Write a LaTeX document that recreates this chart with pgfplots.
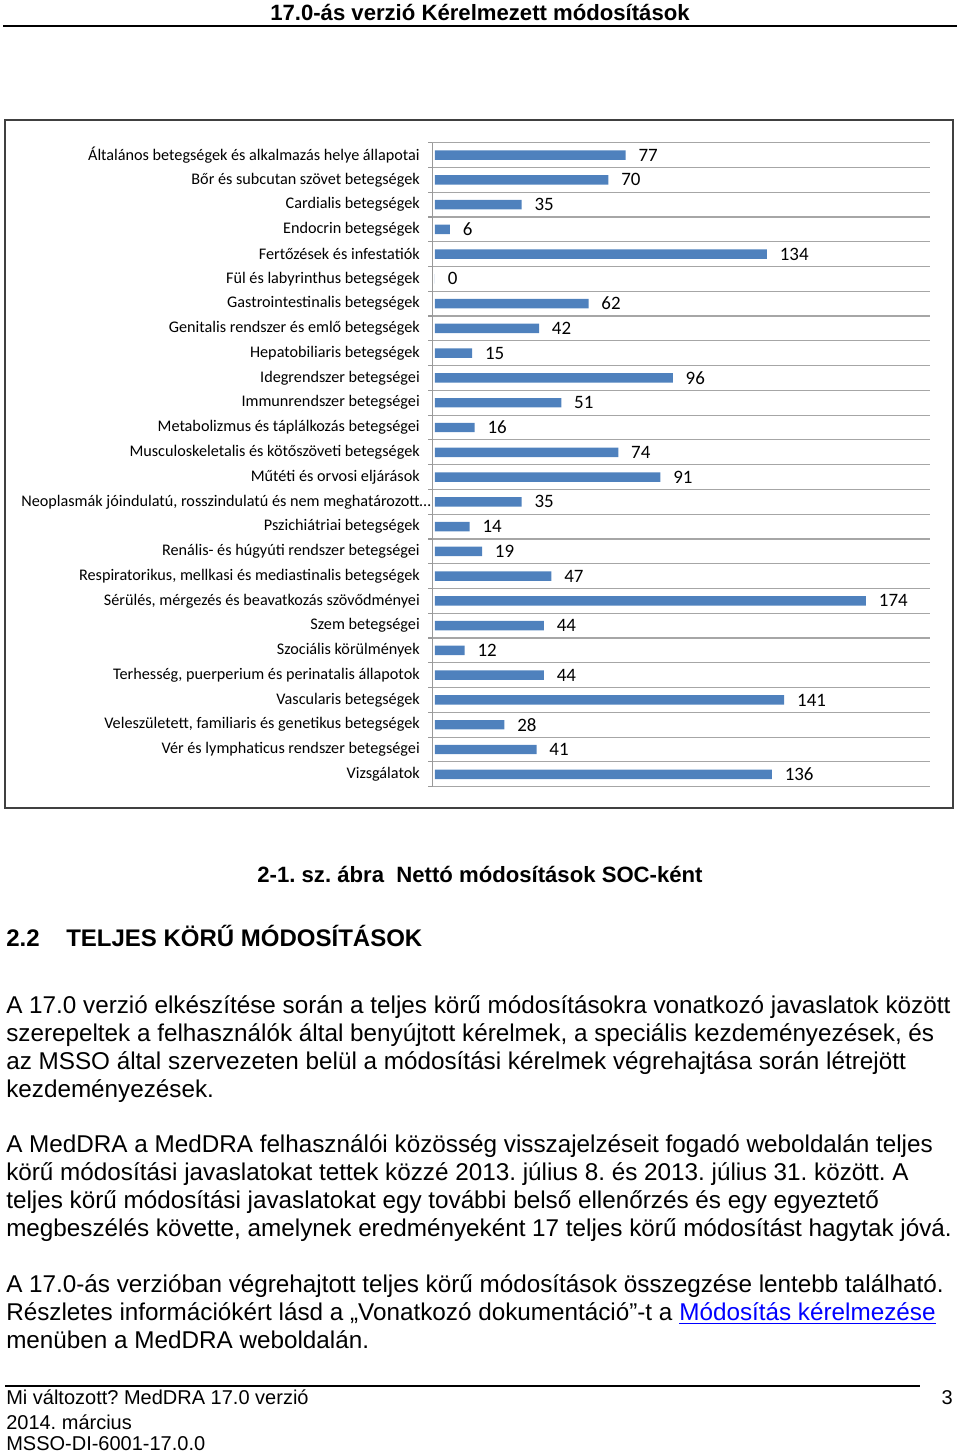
\documentclass[border=0pt]{standalone}
\usepackage{pgfplots}
\pgfplotsset{compat=1.18}
\usepackage{fontspec}
\setmainfont{Liberation Sans}
\newfontfamily\calibri{Carlito}
\definecolor{barblue}{HTML}{4F81BD}
\newcommand{\bodyfont}{\fontsize{18.2}{22}\selectfont}
\frenchspacing
\begin{document}
\begin{tikzpicture}
\begin{scope}[x=0.75pt,y=0.75pt]
\path[use as bounding box] (0,0) rectangle (960,1454);
% header
\node[anchor=base,inner sep=0pt] at (480,{1454-21}) {\fontsize{16.6}{20}\selectfont\bfseries 17.0-ás verzió Kérelmezett módosítások};
\draw[black,line width=1.2pt] (3,{1454-26}) -- (957,{1454-26});
% chart frame
\draw[black!75,line width=1.5pt] (5,{1454-120}) rectangle (953,{1454-808});
% caption
\node[anchor=base,inner sep=0pt] at (480,{1454-883}) {\fontsize{16.6}{20}\selectfont\bfseries 2-1. sz. ábra\ \ Nettó módosítások SOC-ként};
% heading
\node[anchor=base west,inner sep=0pt] at (6,{1454-947}) {\fontsize{18}{22}\selectfont\bfseries 2.2};
\node[anchor=base west,inner sep=0pt] at (66,{1454-947}) {\fontsize{18}{22}\selectfont\bfseries TELJES KÖRŰ MÓDOSÍTÁSOK};
% paragraph 1
\node[anchor=base west,inner sep=0pt] at (6,{1454-1014}) {\bodyfont A 17.0 verzió elkészítése során a teljes körű módosításokra vonatkozó javaslatok között};
\node[anchor=base west,inner sep=0pt] at (6,{1454-1042}) {\bodyfont szerepeltek a felhasználók által benyújtott kérelmek, a speciális kezdeményezések, és};
\node[anchor=base west,inner sep=0pt] at (6,{1454-1070}) {\bodyfont az MSSO által szervezeten belül a módosítási kérelmek végrehajtása során létrejött};
\node[anchor=base west,inner sep=0pt] at (6,{1454-1098}) {\bodyfont kezdeményezések.};
% paragraph 2
\node[anchor=base west,inner sep=0pt] at (6,{1454-1153}) {\bodyfont A MedDRA a MedDRA felhasználói közösség visszajelzéseit fogadó weboldalán teljes};
\node[anchor=base west,inner sep=0pt] at (6,{1454-1181}) {\bodyfont körű módosítási javaslatokat tettek közzé 2013. július 8. és 2013. július 31. között. A};
\node[anchor=base west,inner sep=0pt] at (6,{1454-1209}) {\bodyfont teljes körű módosítási javaslatokat egy további belső ellenőrzés és egy egyeztető};
\node[anchor=base west,inner sep=0pt] at (6,{1454-1237}) {\bodyfont megbeszélés követte, amelynek eredményeként 17 teljes körű módosítást hagytak jóvá.};
% paragraph 3
\node[anchor=base west,inner sep=0pt] at (6,{1454-1293}) {\bodyfont A 17.0-ás verzióban végrehajtott teljes körű módosítások összegzése lentebb található.};
\node[anchor=base west,inner sep=0pt] at (6,{1454-1321}) {\bodyfont Részletes információkért lásd a „Vonatkozó dokumentáció”-t a \textcolor{blue}{\underline{Módosítás kérelmezése}}};
\node[anchor=base west,inner sep=0pt] at (6,{1454-1349}) {\bodyfont menüben a MedDRA weboldalán.};
% footer
\draw[black,line width=1pt] (5,{1454-1386}) -- (920,{1454-1386});
\node[anchor=base west,inner sep=0pt] at (6,{1454-1405}) {\fontsize{15}{18}\selectfont Mi változott? MedDRA 17.0 verzió};
\node[anchor=base west,inner sep=0pt] at (6,{1454-1429}) {\fontsize{15}{18}\selectfont 2014. március};
\node[anchor=base west,inner sep=0pt] at (6,{1454-1451}) {\fontsize{15}{18}\selectfont MSSO-DI-6001-17.0.0};
\node[anchor=base east,inner sep=0pt] at (953,{1454-1405}) {\fontsize{15}{18}\selectfont 3};
\end{scope}
\begin{axis}[
  at={(324.375pt,500.5pt)}, anchor=south west,
  scale only axis, width=373.4pt, height=483pt,
  xbar, bar width=7.1pt,
  xmin=-1, xmax=200, ymin=-0.5, ymax=25.5,
  y dir=reverse, enlargelimits=false, clip=false,
  axis y line*=left, axis x line=none,
  axis line style={gray!80,line width=1pt},
  xtick=\empty,
  ytick={0,...,25},
  minor ytick={-0.5,0.5,...,25.5},
  yminorgrids=true,
  minor grid style={gray!70,line width=0.9pt},
  major tick length=0pt, minor tick length=3pt, tick align=outside,
  minor tick style={gray!80,line width=0.9pt},
  yticklabel style={anchor=east,inner sep=0pt,xshift=-9.4pt,font=\calibri\fontsize{12.15}{14}\selectfont},
  yticklabels={
    {Általános betegségek és alkalmazás helye állapotai},
    {Bőr és subcutan szövet betegségek},
    {Cardialis betegségek},
    {Endocrin betegségek},
    {Fertőzések és infestatiók},
    {Fül és labyrinthus betegségek},
    {Gastrointestinalis betegségek},
    {Genitalis rendszer és emlő betegségek},
    {Hepatobiliaris betegségek},
    {Idegrendszer betegségei},
    {Immunrendszer betegségei},
    {Metabolizmus és táplálkozás betegségei},
    {Musculoskeletalis és kötőszöveti betegségek},
    {Műtéti és orvosi eljárások},
    {Neoplasmák jóindulatú, rosszindulatú és nem meghatározott\rlap{…}},
    {Pszichiátriai betegségek},
    {Renális- és húgyúti rendszer betegségei},
    {Respiratorikus, mellkasi és mediastinalis betegségek},
    {Sérülés, mérgezés és beavatkozás szövődményei},
    {Szem betegségei},
    {Szociális körülmények},
    {Terhesség, puerperium és perinatalis állapotok},
    {Vascularis betegségek},
    {Veleszületett, familiaris és genetikus betegségek},
    {Vér és lymphaticus rendszer betegségei},
    {Vizsgálatok}},
  /pgf/number format/assume math mode=true,
  nodes near coords,
  every node near coord/.style={anchor=west,inner sep=0pt,xshift=9.5pt,font=\calibri\fontsize{14.2}{16}\selectfont,black},
]
\addplot[fill=barblue,draw=none] coordinates {
(77,0) (70,1) (35,2) (6,3) (134,4) (0,5) (62,6) (42,7) (15,8) (96,9)
(51,10) (16,11) (74,12) (91,13) (35,14) (14,15) (19,16) (47,17) (174,18) (44,19)
(12,20) (44,21) (141,22) (28,23) (41,24) (136,25)};
\end{axis}
\end{tikzpicture}
\end{document}
